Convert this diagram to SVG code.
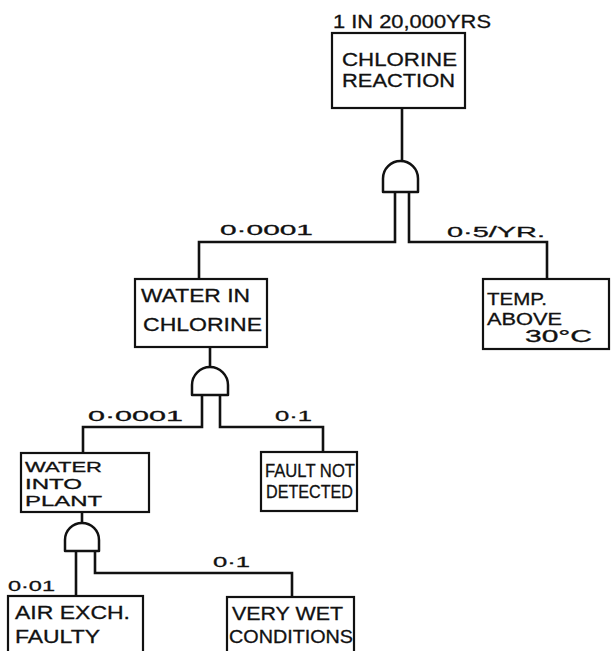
<svg xmlns="http://www.w3.org/2000/svg" width="611" height="651" viewBox="0 0 611 651">
<style>
.box{fill:#fff;stroke:#111;stroke-width:2.2}
.gate{fill:#fff;stroke:#111;stroke-width:2.5;stroke-linejoin:round}
.wire{fill:none;stroke:#111;stroke-width:2.6;stroke-linejoin:miter}
.t{font-family:"Liberation Sans",Arial,sans-serif;font-size:18.5px;fill:#111;stroke:#111;stroke-width:0.3}
.s{font-family:"Liberation Sans",Arial,sans-serif;font-size:15px;fill:#111;stroke:#111;stroke-width:0.3}
.m{font-family:"Liberation Sans",Arial,sans-serif;font-size:16.5px;fill:#111;stroke:#111;stroke-width:0.3}
.n{font-family:"Liberation Sans",Arial,sans-serif;font-size:14.5px;fill:#111;stroke:#111;stroke-width:0.3}
</style>
<rect width="611" height="651" fill="#fff"/>
<g id="connectors">
<path class="wire" d="M402,108 V161"/>
<path class="wire" d="M395,192 V242 H199 V279"/>
<path class="wire" d="M409,192 V242 H547 V279"/>
<path class="wire" d="M210,347 V367"/>
<path class="wire" d="M202,395 V427 H83 V453"/>
<path class="wire" d="M220,395 V427 H323 V452"/>
<path class="wire" d="M82,512 V523"/>
<path class="wire" d="M76,551 V596"/>
<path class="wire" d="M95,551 V573 H292 V597"/>
<text class="s" x="220" y="235" textLength="93" lengthAdjust="spacingAndGlyphs">0·0001</text>
<text class="s" x="447" y="237" textLength="98" lengthAdjust="spacingAndGlyphs">0·5/YR.</text>
<text class="s" x="88" y="421" textLength="95" lengthAdjust="spacingAndGlyphs">0·0001</text>
<text class="s" x="275" y="421" textLength="37" lengthAdjust="spacingAndGlyphs">0·1</text>
<text class="s" x="213" y="567" textLength="37" lengthAdjust="spacingAndGlyphs">0·1</text>
<text class="s" x="8" y="591" textLength="47" lengthAdjust="spacingAndGlyphs">0·01</text>
</g>
<g id="gate-top"><path class="gate" d="M383,192 V178.5 A17.5,17.5 0 0 1 418,178.5 V192 Z"/></g>
<g id="gate-mid"><path class="gate" d="M192,395 V385 A18,18 0 0 1 228,385 V395 Z"/></g>
<g id="gate-bottom"><path class="gate" d="M65,551 V540 A17,17 0 0 1 99,540 V551 Z"/></g>
<g id="chlorine-reaction">
<text class="t" x="333" y="28" textLength="158" lengthAdjust="spacingAndGlyphs">1 IN 20,000YRS</text>
<rect class="box" x="332" y="33" width="133" height="75"/>
<text class="t" x="342" y="66" textLength="115" lengthAdjust="spacingAndGlyphs">CHLORINE</text>
<text class="t" x="342" y="87" textLength="113" lengthAdjust="spacingAndGlyphs">REACTION</text>
</g>
<g id="temp-above">
<rect class="box" x="483" y="279" width="126" height="70"/>
<text class="m" x="487" y="305" textLength="60" lengthAdjust="spacingAndGlyphs">TEMP.</text>
<text class="m" x="487" y="325" textLength="75" lengthAdjust="spacingAndGlyphs">ABOVE</text>
<text class="m" x="525" y="342" textLength="67" lengthAdjust="spacingAndGlyphs">30°C</text>
</g>
<g id="water-in-chlorine">
<rect class="box" x="135" y="279" width="132" height="68"/>
<text class="t" x="141" y="302" textLength="109" lengthAdjust="spacingAndGlyphs">WATER IN</text>
<text class="t" x="143" y="331" textLength="119" lengthAdjust="spacingAndGlyphs">CHLORINE</text>
</g>
<g id="water-into-plant">
<rect class="box" x="21" y="453" width="128" height="59"/>
<text class="n" x="25" y="472" textLength="77" lengthAdjust="spacingAndGlyphs">WATER</text>
<text class="n" x="25" y="489" textLength="57" lengthAdjust="spacingAndGlyphs">INTO</text>
<text class="n" x="25" y="506" textLength="77" lengthAdjust="spacingAndGlyphs">PLANT</text>
</g>
<g id="fault-not-detected">
<rect class="box" x="261" y="452" width="96" height="59"/>
<text class="t" x="265" y="477" textLength="90" lengthAdjust="spacingAndGlyphs">FAULT NOT</text>
<text class="t" x="266" y="498" textLength="87" lengthAdjust="spacingAndGlyphs">DETECTED</text>
</g>
<g id="air-exch-faulty">
<rect class="box" x="8" y="596" width="135" height="64"/>
<text class="t" x="15" y="619" textLength="115" lengthAdjust="spacingAndGlyphs">AIR EXCH.</text>
<text class="t" x="15" y="643" textLength="85" lengthAdjust="spacingAndGlyphs">FAULTY</text>
</g>
<g id="very-wet-conditions">
<rect class="box" x="227" y="597" width="127" height="63"/>
<text class="t" x="232" y="620" textLength="111" lengthAdjust="spacingAndGlyphs">VERY WET</text>
<text class="t" x="229" y="643" textLength="124" lengthAdjust="spacingAndGlyphs">CONDITIONS</text>
</g>
</svg>
